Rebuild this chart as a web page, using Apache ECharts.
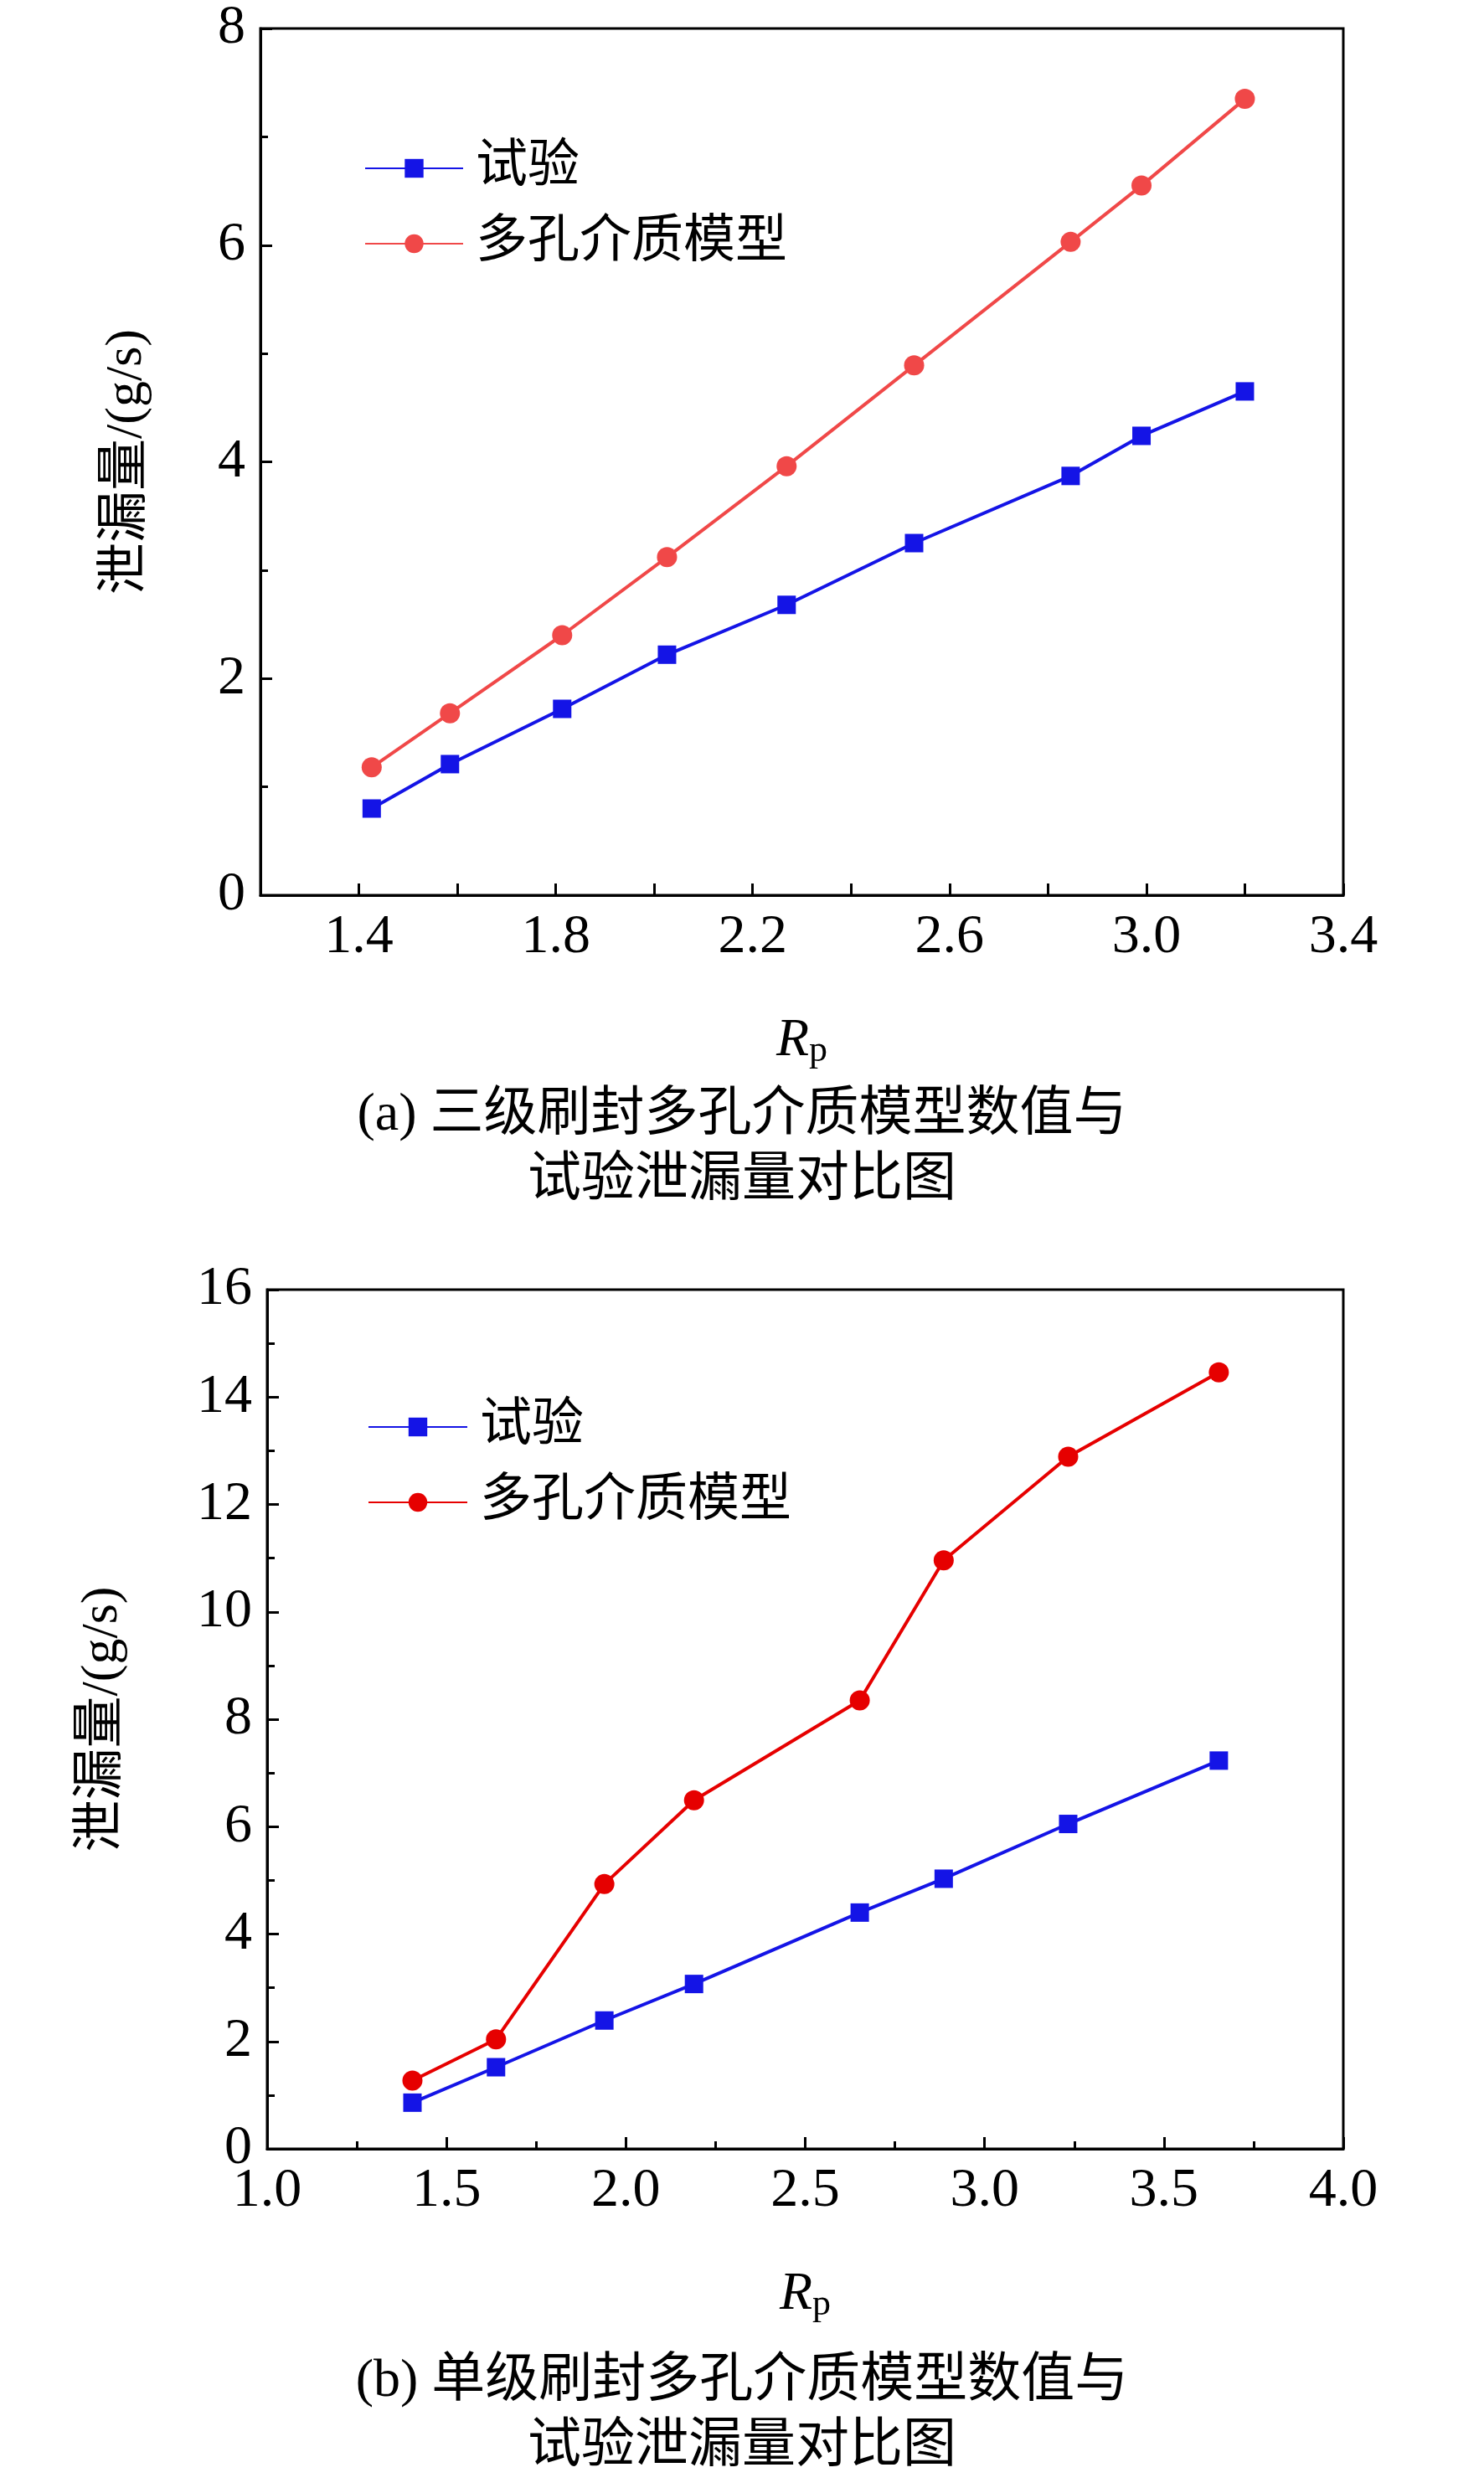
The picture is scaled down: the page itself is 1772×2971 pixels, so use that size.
<!DOCTYPE html>
<html>
<head>
<meta charset="utf-8">
<script src="https://cdn.jsdelivr.net/npm/echarts@6/dist/echarts.min.js"></script>
<style>html,body{margin:0;padding:0;background:#fff}#main{width:1772px;height:2971px}</style>
</head>
<body>
<div id="main"></div>
<script>
// (a) three-stage brush seal
var rpA = [1.426, 1.585, 1.813, 2.026, 2.269, 2.528, 2.846, 2.99, 3.2];
var testA = [0.80, 1.21, 1.72, 2.22, 2.68, 3.25, 3.87, 4.24, 4.65];
var modelA = [1.18, 1.68, 2.40, 3.12, 3.96, 4.89, 6.03, 6.55, 7.35];
// (b) single-stage brush seal
var rpB = [1.405, 1.638, 1.94, 2.19, 2.652, 2.886, 3.233, 3.653];
var testB = [0.86, 1.52, 2.39, 3.07, 4.40, 5.03, 6.05, 7.23];
var modelB = [1.27, 2.04, 4.93, 6.49, 8.35, 10.96, 12.89, 14.46];

var FONT = '"Liberation Serif", "Noto Sans CJK SC", serif';
var chart = echarts.init(document.getElementById('main'));

function zip(x, y) {
    var out = [];
    for (var i = 0; i < x.length; i++) out.push([x[i], y[i]]);
    return out;
}

var axisCommon = {
    axisLine: {lineStyle: {color: '#000', width: 3}},
    axisTick: {inside: true, length: 14, lineStyle: {color: '#000', width: 3}},
    minorTick: {show: true, splitNumber: 2, length: 9, lineStyle: {color: '#000', width: 3}},
    splitLine: {show: false},
    axisLabel: {color: '#000', fontFamily: FONT, fontSize: 66, margin: 18}
};
var rpName = {
    name: '{i|R}{s|p}',
    nameLocation: 'middle',
    nameTextStyle: {
        rich: {
            i: {fontFamily: FONT, fontStyle: 'italic', fontSize: 64, color: '#000'},
            s: {fontFamily: FONT, fontSize: 44, color: '#000', padding: [24, 0, 0, 0]}
        }
    }
};
var yName = {
    name: '泄漏量/(g/s)',
    nameLocation: 'middle',
    nameRotate: 90,
    nameTextStyle: {fontFamily: FONT, fontSize: 62, color: '#000'}
};

function series(name, data, idx, symbol, color, size) {
    return {
        name: name, type: 'line', xAxisIndex: idx, yAxisIndex: idx,
        data: data, symbol: symbol, symbolSize: size,
        itemStyle: {color: color}, lineStyle: {color: color, width: 4}
    };
}

var legendText = {fontFamily: FONT, fontSize: 62, color: '#000', padding: [0, 0, 0, 10]};

chart.setOption({
    animation: false,
    grid: [
        {left: 311, right: 168, top: 34, height: 1035, show: true, borderColor: '#000', borderWidth: 3},
        {left: 319, right: 168, top: 1540, height: 1026, show: true, borderColor: '#000', borderWidth: 3}
    ],
    legend: [
        {data: ['试验', '多孔介质模型'], left: 430, top: 165, orient: 'vertical', itemWidth: 117, itemHeight: 28,
            itemGap: 28, textStyle: legendText},
        {data: ['试验 ', '多孔介质模型 '], left: 434, top: 1668, orient: 'vertical', itemWidth: 118, itemHeight: 28,
            itemGap: 28, textStyle: legendText}
    ],
    xAxis: [
        Object.assign({}, axisCommon, rpName, {
            gridIndex: 0, type: 'value', min: 1.2, max: 3.4, interval: 0.2, nameGap: 140,
            minorTick: {show: false},
            axisLabel: Object.assign({}, axisCommon.axisLabel, {
                formatter: function (v) { return Math.round(v * 10) % 4 === 2 ? v.toFixed(1) : ''; }
            })
        }),
        Object.assign({}, axisCommon, rpName, {
            gridIndex: 1, type: 'value', min: 1.0, max: 4.0, interval: 0.5, nameGap: 140,
            axisLabel: Object.assign({}, axisCommon.axisLabel, {
                formatter: function (v) { return v.toFixed(1); }
            })
        })
    ],
    yAxis: [
        Object.assign({}, axisCommon, yName, {gridIndex: 0, type: 'value', min: 0, max: 8, interval: 2, nameGap: 128}),
        Object.assign({}, axisCommon, yName, {gridIndex: 1, type: 'value', min: 0, max: 16, interval: 2, nameGap: 165})
    ],
    series: [
        series('试验', zip(rpA, testA), 0, 'rect', '#1414e6', 22),
        series('多孔介质模型', zip(rpA, modelA), 0, 'circle', '#f04848', 24),
        series('试验 ', zip(rpB, testB), 1, 'rect', '#1414e6', 22),
        series('多孔介质模型 ', zip(rpB, modelB), 1, 'circle', '#e60000', 24)
    ],
    graphic: [
        {type: 'text', left: 'center', top: 1300, style: {text: '(a) 三级刷封多孔介质模型数值与', font: '64px ' + FONT, fill: '#000'}},
        {type: 'text', left: 'center', top: 1378, style: {text: '试验泄漏量对比图', font: '64px ' + FONT, fill: '#000'}},
        {type: 'text', left: 'center', top: 2812, style: {text: '(b) 单级刷封多孔介质模型数值与', font: '64px ' + FONT, fill: '#000'}},
        {type: 'text', left: 'center', top: 2890, style: {text: '试验泄漏量对比图', font: '64px ' + FONT, fill: '#000'}}
    ]
});
</script>
</body>
</html>
